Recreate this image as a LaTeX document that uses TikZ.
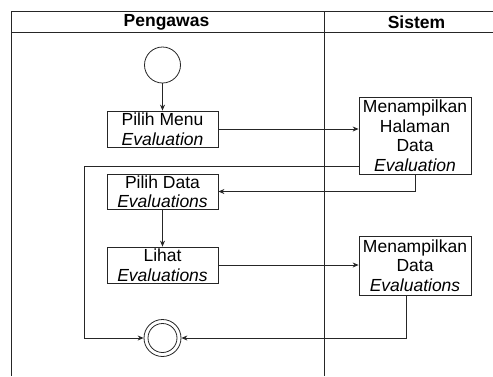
\documentclass[tikz,border=0pt]{standalone}
\usepackage{fontspec}
\setmainfont{Liberation Sans}
\usetikzlibrary{arrows.meta,calc}
\begin{document}
\begin{tikzpicture}[x=1pt,y=-1pt,
  lane/.style={draw=black!85,line width=0.9pt},
  act/.style={draw=black!85,line width=0.8pt,rectangle,inner sep=0pt,align=center,
    font=\fontsize{17.5}{19.5}\selectfont},
  flow/.style={draw=black!85,line width=0.8pt,-{Stealth[length=6pt,width=5pt]}},
  head/.style={font=\fontsize{17.5}{19}\selectfont\bfseries}]
\useasboundingbox (0,0) rectangle (493,376);
\fill[white] (0,0) rectangle (493,376);
% swimlane frame
\draw[lane] (493,11) -- (11,11) -- (11,376);
\draw[lane] (11,32) -- (493,32);
\draw[lane] (324,11) -- (324,376);
\node[head] (hp) at (166.5,22) {Pengawas};
\node[head] (hs) at (416.5,22) {Sistem};
% start and end
\node[circle,draw=black!85,line width=0.8pt,minimum size=36pt,inner sep=0pt] (start) at (162.5,65) {};
\node[circle,draw=black!85,line width=0.8pt,minimum size=37pt,inner sep=0pt] (end) at (162.5,338) {};
\node[circle,draw=black!85,line width=0.8pt,minimum size=29pt,inner sep=0pt] (endin) at (162.5,338) {};
% activities
\node[act,minimum width=111pt,minimum height=36pt] (pm) at (162.5,129) {Pilih Menu\\\textit{Evaluation}};
\node[act,minimum width=111pt,minimum height=35pt] (pd) at (162.5,191.5) {Pilih Data\\\textit{Evaluations}};
\node[act,minimum width=111pt,minimum height=36pt] (lh) at (162.5,265) {Lihat\\\textit{Evaluations}};
\node[act,minimum width=112pt,minimum height=77pt] (mh) at (415,135.5) {Menampilkan\\Halaman\\Data\\\textit{Evaluation}};
\node[act,minimum width=112pt,minimum height=59pt] (md) at (415,265.5) {Menampilkan\\Data\\\textit{Evaluations}};
\coordinate (loopx) at (84,0);
% flows
\draw[flow] (start) -- (pm);
\draw[flow] (pm.east) -- (pm.east -| mh.west);
\draw[flow] (mh.south) |- (pd.east);
\draw[flow] (pd) -- (lh);
\draw[flow] (lh.east) -- (lh.east -| md.west);
\draw[flow] ($(md.south)+(-9,0)$) |- (end.east);
\draw[flow] ($(mh.west)+(0,30.5)$) -| (loopx |- end.west) -- (end.west);
\end{tikzpicture}
\end{document}
